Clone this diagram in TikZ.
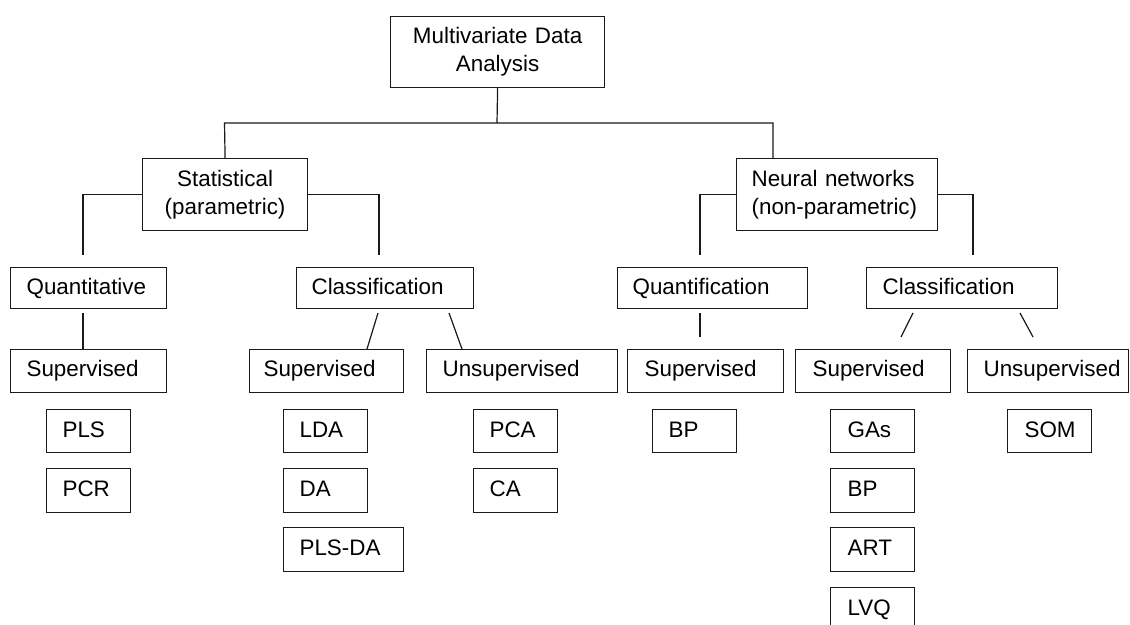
\documentclass[tikz,border=0pt]{standalone}
\usepackage{fontspec}
\setmainfont{Liberation Sans}
\definecolor{ink}{HTML}{1A1A1A}
\newcommand\bxst{\rule[-4pt]{0pt}{20pt}}
\tikzset{
  bx/.style={draw=ink, line width=1.2pt, anchor=north west, inner ysep=0pt,
             font=\fontsize{22.4}{28}\selectfont},
  ln/.style={draw=ink, line width=1.2pt}
}
% name, left, top, right, bottom, pad, align, text
\newcommand\bxnode[8]{%
  \pgfmathsetmacro\bxW{#4-#2-2*#6}%
  \pgfmathsetmacro\bxH{#5-#3}%
  \node[bx, align=#7, text width=\bxW pt, inner xsep=#6pt, minimum height=\bxH pt] (#1) at (#2,-#3) {#8};}
\begin{document}
\begin{tikzpicture}[x=1pt,y=1pt]
\clip (0,0) rectangle (1130,-624);
\fill[white] (0,0) rectangle (1130,-624);

% level 0
\bxnode{top}{390}{16}{604}{87}{4}{center}{Multivariate Data\\Analysis}
% level 1
\bxnode{stat}{142}{158}{307}{230}{4}{center}{Statistical\\(parametric)}
\bxnode{nn}{736}{158}{937}{230}{15}{left}{Neural networks\\(non-parametric)}
% level 2
\bxnode{quant}{10}{267}{166}{308}{16}{left}{\bxst Quantitative}
\bxnode{sclass}{296}{267}{473}{308}{15}{left}{\bxst Classification}
\bxnode{nquant}{617}{267}{807}{308}{15}{left}{\bxst Quantification}
\bxnode{nclass}{866}{267}{1057}{308}{16}{left}{\bxst Classification}
% level 3
\bxnode{sup1}{10}{349}{166}{392}{16}{left}{\bxst Supervised}
\bxnode{sup2}{249}{349}{403}{392}{14}{left}{\bxst Supervised}
\bxnode{uns1}{426}{349}{617}{392}{16}{left}{\bxst Unsupervised}
\bxnode{sup3}{627}{349}{783}{392}{17}{left}{\bxst Supervised}
\bxnode{sup4}{795}{349}{950}{392}{17}{left}{\bxst Supervised}
\bxnode{uns2}{967}{349}{1128}{392}{16}{left}{\bxst Unsupervised}
% leaves
\bxnode{pls}{46}{409}{130}{452}{16}{left}{\bxst PLS}
\bxnode{pcr}{46}{468}{130}{512}{16}{left}{\bxst PCR}
\bxnode{lda}{283}{409}{367}{452}{16}{left}{\bxst LDA}
\bxnode{da}{283}{468}{367}{512}{16}{left}{\bxst DA}
\bxnode{plsda}{283}{527}{403}{571}{16}{left}{\bxst PLS-DA}
\bxnode{pca}{473}{409}{557}{452}{16}{left}{\bxst PCA}
\bxnode{ca}{473}{468}{557}{512}{16}{left}{\bxst CA}
\bxnode{bp1}{652}{409}{736}{452}{16}{left}{\bxst BP}
\bxnode{gas}{830}{409}{914}{452}{17}{left}{\bxst GAs}
\bxnode{bp2}{830}{468}{914}{512}{17}{left}{\bxst BP}
\bxnode{art}{830}{527}{914}{571}{17}{left}{\bxst ART}
\bxnode{lvq}{830}{587}{914}{631}{17}{left}{\bxst LVQ}
\bxnode{som}{1007}{409}{1091}{452}{17}{left}{\bxst SOM}

% connector points
\coordinate (j)  at (497,-123);
\coordinate (jl) at (224.5,-123);
\coordinate (jr) at (773,-123);
\coordinate (nnin) at (773,-158);
\coordinate (sa) at (83,-255);
\coordinate (sb) at (379,-255);
\coordinate (na) at (700,-255);
\coordinate (nb) at (973,-255);
\coordinate (qa) at (83,-313);
\coordinate (c1a) at (378,-313); \coordinate (c1b) at (367,-349);
\coordinate (c2a) at (449,-313); \coordinate (c2b) at (462,-349);
\coordinate (qn1) at (700,-313); \coordinate (qn2) at (700,-337);
\coordinate (d1a) at (913,-313); \coordinate (d1b) at (901,-337);
\coordinate (d2a) at (1020,-313); \coordinate (d2b) at (1033,-337);

\draw[ln] (top.south) -- (j);
\draw[ln] (stat.north) -- (jl) -- (jr) -- (nnin);
\draw[ln] (stat.west) -| (sa);
\draw[ln] (stat.east) -| (sb);
\draw[ln] (nn.west) -| (na);
\draw[ln] (nn.east) -| (nb);
\draw[ln] (qa) -- (qa |- sup1.north);
\draw[ln] (c1a) -- (c1b);
\draw[ln] (c2a) -- (c2b);
\draw[ln] (qn1) -- (qn2);
\draw[ln] (d1a) -- (d1b);
\draw[ln] (d2a) -- (d2b);
\end{tikzpicture}
\end{document}
